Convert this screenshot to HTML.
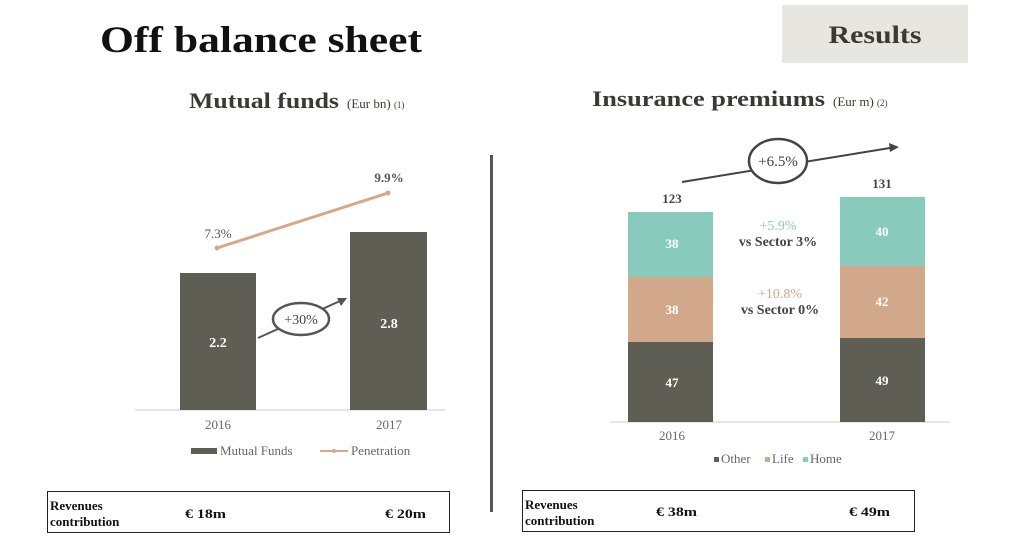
<!DOCTYPE html>
<html><head><meta charset="utf-8"><style>
html,body{margin:0;padding:0;background:#fff;}
svg{display:block;font-family:"Liberation Serif",serif;}
</style></head><body>
<svg width="1023" height="545" viewBox="0 0 1023 545" xmlns="http://www.w3.org/2000/svg">
<rect x="0" y="0" width="1023" height="545" fill="#fff"/>
<text x="100" y="52" font-size="37" font-weight="bold" fill="#111" textLength="322" lengthAdjust="spacingAndGlyphs">Off balance sheet</text>
<rect x="782" y="5" width="186" height="58" fill="#e8e6e0"/>
<text x="875" y="43" font-size="25" font-weight="bold" fill="#3a3a35" text-anchor="middle" textLength="93" lengthAdjust="spacingAndGlyphs">Results</text>
<text x="189" y="108" font-size="22" font-weight="bold" fill="#3a3a35" textLength="150" lengthAdjust="spacingAndGlyphs">Mutual funds</text>
<text x="347" y="108" font-size="13" fill="#3a3a35">(Eur bn) <tspan font-size="9">(1)</tspan></text>
<text x="592" y="106" font-size="22" font-weight="bold" fill="#3a3a35" textLength="233" lengthAdjust="spacingAndGlyphs">Insurance premiums</text>
<text x="833" y="106" font-size="13" fill="#3a3a35">(Eur m) <tspan font-size="9">(2)</tspan></text>
<rect x="490" y="155" width="3" height="357" fill="#555"/>

<!-- left chart -->
<line x1="135" y1="410" x2="445" y2="410" stroke="#ddd" stroke-width="1.5"/>
<rect x="180" y="273" width="76" height="137" fill="#5f5e55"/>
<rect x="350" y="232" width="77" height="178" fill="#5f5e55"/>
<text x="218" y="347" font-size="14" font-weight="bold" fill="#fff" text-anchor="middle">2.2</text>
<text x="389" y="328" font-size="14" font-weight="bold" fill="#fff" text-anchor="middle">2.8</text>
<line x1="217" y1="248" x2="388" y2="193" stroke="#d4a98a" stroke-width="3"/>
<circle cx="217" cy="248" r="2.5" fill="#d4a98a"/><circle cx="388" cy="193" r="2.5" fill="#d4a98a"/>
<text x="218" y="238" font-size="13" fill="#555" text-anchor="middle">7.3%</text>
<text x="389" y="182" font-size="13" font-weight="bold" fill="#555" text-anchor="middle">9.9%</text>
<line x1="258" y1="338" x2="340" y2="301" stroke="#555" stroke-width="2"/>
<polygon points="347,298 337,298 341,306" fill="#555"/>
<ellipse cx="301" cy="319" rx="28" ry="16" fill="#fff" stroke="#555" stroke-width="2.5"/>
<text x="301" y="324" font-size="14" fill="#444" text-anchor="middle">+30%</text>
<text x="218" y="429" font-size="13" fill="#666" text-anchor="middle">2016</text>
<text x="389" y="429" font-size="13" fill="#666" text-anchor="middle">2017</text>
<rect x="191" y="448" width="26" height="6" fill="#5f5e55"/>
<text x="220" y="455" font-size="13" fill="#666">Mutual Funds</text>
<line x1="320" y1="451" x2="348" y2="451" stroke="#d4a98a" stroke-width="2"/>
<circle cx="334" cy="451" r="2" fill="#d4a98a"/>
<text x="351" y="455" font-size="13" fill="#666">Penetration</text>

<!-- right chart -->
<line x1="610" y1="422" x2="950" y2="422" stroke="#ddd" stroke-width="1.5"/>
<rect x="628" y="212" width="85" height="65" fill="#88cbbd"/>
<rect x="628" y="277" width="85" height="65" fill="#d1a889"/>
<rect x="628" y="342" width="85" height="80" fill="#5f5e55"/>
<rect x="840" y="197" width="85" height="69" fill="#88cbbd"/>
<rect x="840" y="266" width="85" height="72" fill="#d1a889"/>
<rect x="840" y="338" width="85" height="84" fill="#5f5e55"/>
<g font-size="13" font-weight="bold" fill="#fff" text-anchor="middle">
<text x="672" y="248">38</text><text x="672" y="314">38</text><text x="672" y="387">47</text>
<text x="882" y="236">40</text><text x="882" y="306">42</text><text x="882" y="385">49</text>
</g>
<text x="672" y="203" font-size="13" font-weight="bold" fill="#444" text-anchor="middle">123</text>
<text x="882" y="188" font-size="13" font-weight="bold" fill="#444" text-anchor="middle">131</text>
<line x1="682" y1="182" x2="890" y2="148" stroke="#444" stroke-width="2"/>
<polygon points="899,147 889,143 890,152" fill="#444"/>
<ellipse cx="778" cy="161" rx="29" ry="22" fill="#fff" stroke="#444" stroke-width="2.5"/>
<text x="778" y="166" font-size="15" fill="#444" text-anchor="middle">+6.5%</text>
<text x="778" y="230" font-size="14" fill="#88cbbd" text-anchor="middle">+5.9%</text>
<text x="778" y="246" font-size="14" font-weight="bold" fill="#444" text-anchor="middle">vs Sector 3%</text>
<text x="780" y="298" font-size="14" fill="#d1a889" text-anchor="middle">+10.8%</text>
<text x="780" y="314" font-size="14" font-weight="bold" fill="#444" text-anchor="middle">vs Sector 0%</text>
<text x="672" y="440" font-size="13" fill="#666" text-anchor="middle">2016</text>
<text x="882" y="440" font-size="13" fill="#666" text-anchor="middle">2017</text>
<rect x="714" y="457" width="5" height="5" fill="#5f5e55"/>
<text x="721" y="463" font-size="13" fill="#666">Other</text>
<rect x="765" y="457" width="5" height="5" fill="#d1a889"/>
<text x="772" y="463" font-size="13" fill="#666">Life</text>
<rect x="803" y="457" width="5" height="5" fill="#88cbbd"/>
<text x="810" y="463" font-size="13" fill="#666">Home</text>

<!-- bottom boxes -->
<rect x="47.5" y="491.5" width="402" height="41" fill="none" stroke="#222" stroke-width="1"/>
<g font-size="13" font-weight="bold" fill="#111">
<text x="50" y="510">Revenues</text><text x="50" y="526">contribution</text>
<text x="185" y="518" textLength="41" lengthAdjust="spacingAndGlyphs">€ 18m</text><text x="385" y="518" textLength="41" lengthAdjust="spacingAndGlyphs">€ 20m</text>
</g>
<rect x="522.5" y="490.5" width="392" height="41" fill="none" stroke="#222" stroke-width="1"/>
<g font-size="13" font-weight="bold" fill="#111">
<text x="525" y="509">Revenues</text><text x="525" y="525">contribution</text>
<text x="656" y="516" textLength="41" lengthAdjust="spacingAndGlyphs">€ 38m</text><text x="849" y="516" textLength="41" lengthAdjust="spacingAndGlyphs">€ 49m</text>
</g>
</svg>
</body></html>
